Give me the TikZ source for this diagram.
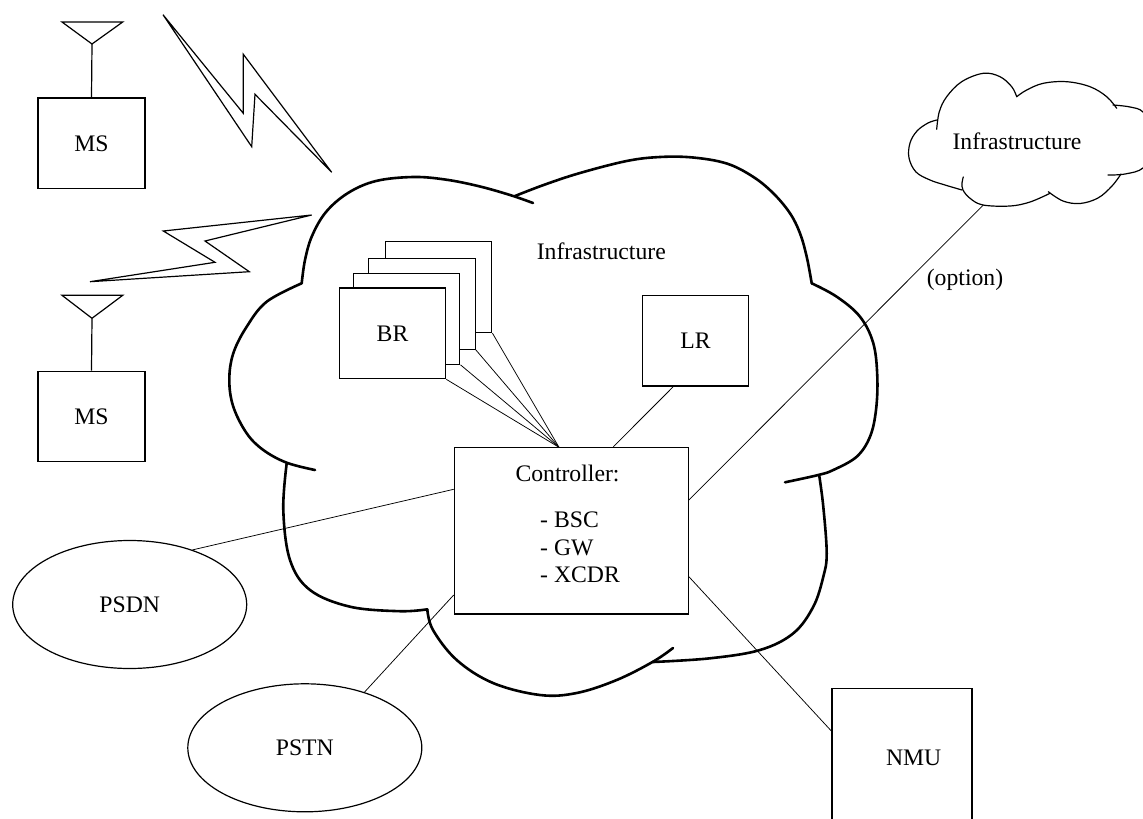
\documentclass[tikz,border=0pt]{standalone}
\usepackage{fontspec}
\setmainfont{Liberation Serif}
\usetikzlibrary{shapes.geometric,calc}
\tikzset{
  txt/.style={font=\fontsize{23.7pt}{27.5pt}\selectfont, inner sep=0pt},
  box/.style={draw, line width=1.2pt, inner sep=0pt, fill=white, txt},
  oval/.style={draw, ellipse, line width=1.2pt, inner sep=0pt, minimum width=234pt, minimum height=128pt, txt},
  conn/.style={line width=0.75pt},
  bigcloud/.style={line width=2.6pt, line cap=round, line join=round},
  smallcloud/.style={line width=1.2pt, line cap=round, line join=round},
  bolt/.style={line width=1.2pt, line join=miter},
  ant/.style={line width=1.2pt},
}
\begin{document}
\begin{tikzpicture}[x=1pt,y=-1pt]
\useasboundingbox (0,0) rectangle (1143,819);

% ---------- main cloud ----------
\draw[bigcloud] plot[smooth, tension=0.6] coordinates {(301.7,283.3) (305,260) (312,236) (326,212) (348,193) (376,181) (413,177) (445,179.5) (478,186) (510,195) (533,203)};
\draw[bigcloud] plot[smooth, tension=0.6] coordinates {(515,196) (545,184.5) (580,173) (626.7,161) (660,157) (693,157.5) (726.7,163.5) (753,176.7) (773.3,193.3) (790,213.3) (800,233.3) (806.7,256.7) (811.7,283.3)};
\draw[bigcloud] plot[smooth, tension=0.6] coordinates {(811.7,283.3) (836.7,296.7) (860,316.7) (873.3,343.3) (877.3,376.7) (876,410) (870,436.7) (856.7,456.7) (833.3,470) (818.3,475) (785,482.3)};
\draw[bigcloud] plot[smooth, tension=0.6] coordinates {(819.3,476) (823.3,506.7) (826.7,553.3) (823.3,576.7) (813.3,606.7) (793.3,633.3) (760,650) (710,658.3) (653,662)};
\draw[bigcloud] plot[smooth, tension=0.6] coordinates {(673,648) (653,661.7) (616.7,680) (576.7,693) (540,695) (493,683) (456.7,660) (433,630) (427.3,609.3)};
\draw[bigcloud] plot[smooth, tension=0.6] coordinates {(286.7,463.3) (283.3,510) (290,560) (310,590) (350,606.7) (400,611.2) (427.3,609.3)};
\draw[bigcloud] plot[smooth, tension=0.6] coordinates {(301.7,283.3) (266.7,301.7) (246.7,326.7) (233.3,353.3) (229.3,380) (233.3,406.7) (246.7,433.3) (263.3,450) (286.7,462.7) (315,470)};

% ---------- small cloud ----------
\draw[smallcloud] plot[smooth, tension=0.6] coordinates {(936.7,129.3) (939.3,111.7) (946.7,96.7) (961.7,81.7) (983.3,73.3) (1000,76.7) (1011.7,86.7) (1016.7,96.7)};
\draw[smallcloud] plot[smooth, tension=0.6] coordinates {(1016.7,96.7) (1026.7,90) (1043.3,83.3) (1066.7,81.7) (1090,86.7) (1106.7,96.7) (1116.7,108.3)};
\draw[smallcloud] plot[smooth, tension=0.6] coordinates {(1113,105) (1130,107) (1143,112) (1152,130) (1152,150) (1143,168) (1125,174) (1108,175)};
\draw[smallcloud] plot[smooth, tension=0.6] coordinates {(1121,174) (1112,186) (1098,198) (1080,203.5) (1063,201) (1048.3,191.7)};
\draw[smallcloud] plot[smooth, tension=0.6] coordinates {(1050,193.3) (1030,202) (1010,206) (983,205) (970,198.3) (963,190) (962,183) (963.3,177)};
\draw[smallcloud] plot[smooth, tension=0.6] coordinates {(962,190) (945,185) (930,180) (916,172) (909,158) (910,143) (917,131) (928,123) (937,120)};
\coordinate (cloudpt) at (983.3,205);

% ---------- lightning ----------
\draw[bolt] (163,14.7) -- (243.3,113.3) -- (243.3,54.3) -- (331.7,172.3) -- (255,94.3) -- (251.7,146.7) -- cycle;
\draw[bolt] (311.7,215) -- (163.3,231) -- (215,262.3) -- (90,281.7) -- (249.3,271.7) -- (205,241) -- cycle;

% ---------- mobile stations ----------
\node[box, minimum width=107pt, minimum height=90.7pt] (ms1) at (91.5,143.3) {MS};
\coordinate (ant1) at (92,44);
\draw[ant] (62,22) -- (ant1) -- (122.7,22) -- cycle;
\draw[ant] (ant1) -- (ms1.north);

\node[box, minimum width=107pt, minimum height=90.7pt] (ms2) at (91.5,416.5) {MS};
\coordinate (ant2) at (92,318.3);
\draw[ant] (62,295.3) -- (ant2) -- (122.7,295.3) -- cycle;
\draw[ant] (ant2) -- (ms2.north);

% ---------- infrastructure contents ----------
\node[txt] (infra) at (601.3,251.5) {Infrastructure};
\node[txt] (infra2) at (1017,141) {Infrastructure};

\node[box, minimum width=106.3pt, minimum height=90.8pt] (br4) at (438.7,287.2) {};
\node[box, minimum width=106.3pt, minimum height=90.8pt] (br3) at (422,303.8) {};
\node[box, minimum width=106.3pt, minimum height=90.8pt] (br2) at (406.7,318.8) {};
\node[box, minimum width=106.3pt, minimum height=90.8pt] (br1) at (392.5,333.3) {BR};

\node[box, minimum width=105.7pt, minimum height=90.7pt] (lr) at (695.5,340.7) {LR};

\node[box, minimum width=234pt, minimum height=166.7pt] (ctrl) at (571.3,530.7) {};
\node[txt] (ctrltitle) at (567.5,473.3) {Controller:};
\node[txt, anchor=west, align=left] (ctrllist) at (540,547.5) {- BSC\\- GW\\- XCDR};

\node[oval] (psdn) at (129.7,604.5) {PSDN};
\node[oval] (pstn) at (304.8,747.8) {PSTN};

\node[box, minimum width=140pt, minimum height=151.3pt] (nmu) at (902,764.3) {};
\node[txt] (nmutext) at (913.7,758.3) {NMU};

\node[txt] (opt) at (965,280) {(option)};

% ---------- connectors ----------
\coordinate (brjoin) at (559,447.3);
\draw[conn] (br1.south east) -- (brjoin);
\draw[conn] (br2.south east) -- (brjoin);
\draw[conn] (br3.south east) -- (brjoin);
\draw[conn] (br4.south east) -- (brjoin);
\draw[conn] ([xshift=-22.2pt]lr.south) -- ([xshift=42pt]ctrl.north);
\draw[conn] (psdn.41) -- ([yshift=41.4pt]ctrl.west);
\draw[conn] (pstn.43) -- ([yshift=-64.3pt]ctrl.west);
\draw[conn] ([yshift=-46pt]ctrl.east) -- ([yshift=-43pt]nmu.north west);
\draw[conn] ([yshift=30.7pt]ctrl.east) -- (cloudpt);
\end{tikzpicture}
\end{document}
